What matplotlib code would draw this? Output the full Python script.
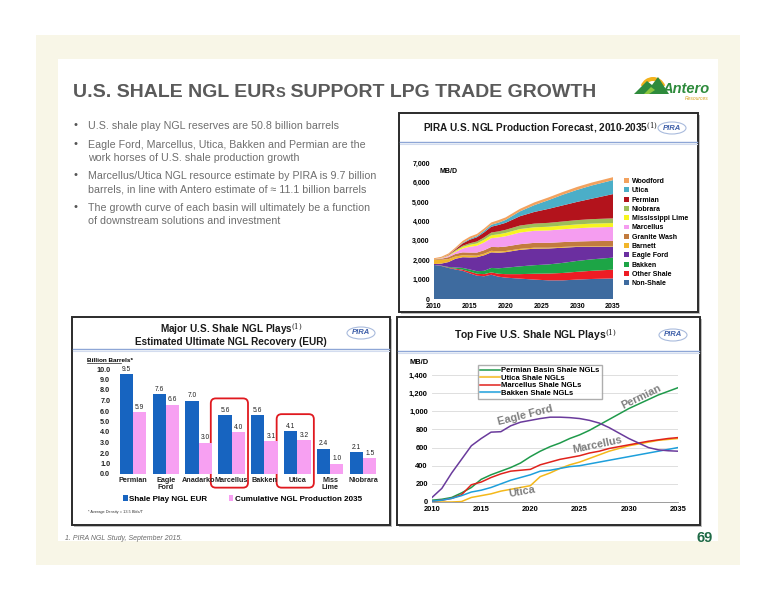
import matplotlib
matplotlib.use("Agg")
import matplotlib.pyplot as plt
from matplotlib.patches import Rectangle, FancyBboxPatch, Ellipse, Polygon, Wedge

plt.rcParams["font.family"] = ["Liberation Sans", "DejaVu Sans"]
plt.rcParams["mathtext.fontset"] = "dejavuserif"

W, H = 776, 600

# ---- data: PIRA U.S. NGL production forecast (MB/D), stacked layers ----
fc_years = [2010, 2011, 2012, 2013, 2014, 2015, 2016, 2017, 2018, 2019, 2020,
            2022, 2024, 2026, 2028, 2030, 2032, 2035]
non_shale = [1750, 1700, 1600, 1520, 1450, 1320, 1200, 1170, 1250, 1150, 1100,
             1050, 1000, 960, 960, 1000, 1030, 1060]
other_shale = [0, 10, 20, 40, 60, 90, 100, 110, 120, 150, 180, 230, 300, 350, 380, 400, 420, 450]
bakken_area = [0, 10, 30, 60, 90, 110, 130, 170, 230, 280, 330, 400, 440, 470, 520, 560, 590, 620]
eagle_area = [50, 100, 250, 450, 550, 620, 720, 800, 800, 800, 800, 850, 850, 820, 780, 720, 650, 570]
barnett = [230, 200, 150, 120, 100, 100, 80, 80, 80, 70, 60, 50, 50, 40, 40, 30, 30, 30]
granite_wash = [20, 50, 100, 130, 150, 150, 160, 180, 200, 220, 230, 240, 250, 250, 250, 250, 260, 260]
marcellus_area = [0, 20, 60, 100, 200, 300, 350, 400, 450, 500, 530, 600, 620, 640, 660, 680, 700, 720]
miss_lime = [0, 10, 20, 50, 80, 100, 120, 140, 150, 160, 170, 180, 180, 190, 190, 200, 200, 200]
niobrara_area = [0, 10, 20, 40, 60, 80, 100, 120, 140, 150, 160, 180, 190, 200, 210, 220, 230, 240]
permian_area = [0, 0, 20, 50, 120, 180, 220, 260, 300, 330, 360, 480, 600, 720, 830, 940, 1050, 1250]
utica_area = [0, 0, 0, 10, 30, 50, 60, 80, 100, 120, 150, 250, 350, 450, 550, 620, 680, 720]
woodford = [50, 60, 70, 80, 100, 110, 110, 120, 120, 130, 130, 130, 140, 140, 140, 150, 150, 150]
layer_names = ["Non-Shale", "Other Shale", "Bakken", "Eagle Ford", "Barnett", "Granite Wash",
               "Marcellus", "Mississippi Lime", "Niobrara", "Permian", "Utica", "Woodford"]
layer_colors = ["#3e6b9f", "#ee1c24", "#1da546", "#6b2fa0", "#f2b62a", "#c27b3e",
                "#f59df0", "#f7f51f", "#9dbd5a", "#b3131c", "#4baec8", "#f3a25e"]

# ---- data: EUR by shale play (billion barrels) ----
plays = ["Permian", "Eagle\nFord", "Anadarko", "Marcellus", "Bakken", "Utica", "Miss\nLime", "Niobrara"]
eur = [9.5, 7.6, 7.0, 5.6, 5.6, 4.1, 2.4, 2.1]
cum_2035 = [5.9, 6.6, 3.0, 4.0, 3.1, 3.2, 1.0, 1.5]
highlight = ["Marcellus", "Utica"]

# ---- data: top five shale NGL plays (MB/D) ----
line_years = list(range(2010, 2036))
eagle_ford = [50, 150, 320, 470, 620, 700, 770, 775, 840, 880, 900, 920, 935,
              935, 930, 920, 900, 870, 820, 760, 700, 650, 600, 575, 565, 560]
permian = [20, 30, 50, 100, 160, 250, 300, 340, 380, 430, 500, 560, 610,
           650, 700, 740, 790, 850, 910, 970, 1030, 1080, 1130, 1180, 1220, 1260]
utica = [0, 0, 0, 5, 50, 70, 90, 120, 140, 160, 180, 280, 320,
         370, 410, 440, 480, 520, 560, 590, 620, 640, 660, 680, 690, 700]
marcellus = [10, 20, 40, 80, 190, 220, 270, 310, 340, 350, 360, 410, 440,
             470, 490, 510, 540, 560, 590, 610, 630, 650, 670, 685, 700, 710]
bakken = [10, 20, 40, 70, 110, 130, 160, 200, 240, 270, 300, 340, 350,
          370, 390, 400, 420, 440, 460, 480, 500, 520, 540, 560, 580, 600]

bullets = [
    ["U.S. shale play NGL reserves are 50.8 billion barrels"],
    ["Eagle Ford, Marcellus, Utica, Bakken and Permian are the",
     "work horses of U.S. shale production growth"],
    ["Marcellus/Utica NGL resource estimate by PIRA is 9.7 billion",
     "barrels, in line with Antero estimate of \u2248 11.1 billion barrels"],
    ["The growth curve of each basin will ultimately be a function",
     "of downstream solutions and investment"],
]


def box(x0, y0, x1, y1):
    return [x0 / W, 1 - y1 / H, (x1 - x0) / W, (y1 - y0) / H]


def panel(bg, x0, y0, x1, y1, sep_y):
    bg.add_patch(Rectangle((x0 + 2, y0 + 2), x1 - x0, y1 - y0, fc="#bdbdbd", ec="none", zorder=1))
    bg.add_patch(Rectangle((x0, y0), x1 - x0, y1 - y0, fc="white", ec="#2b2b2b", lw=1.4, zorder=2))
    bg.plot([x0 + 1, x1 - 1], [sep_y, sep_y], color="#8ea6d6", lw=1.0, zorder=3)
    bg.plot([x0 + 1, x1 - 1], [sep_y + 2, sep_y + 2], color="#d3dcef", lw=0.8, zorder=3)


def pira(bg, cx, cy):
    bg.add_patch(Ellipse((cx, cy), 28, 12, fc="white", ec="#a9bbdd", lw=0.8, zorder=4))
    bg.text(cx, cy, "PIRA", fontsize=5.5, fontweight="bold", style="italic",
            color="#3d5ea8", ha="center", va="center", zorder=5)


fig = plt.figure(figsize=(7.76, 6), dpi=100)
bg = fig.add_axes([0, 0, 1, 1])
bg.set_xlim(0, W)
bg.set_ylim(H, 0)
bg.axis("off")

# slide background
bg.add_patch(Rectangle((36, 35), 704, 530, fc="#f8f6e7", ec="none", zorder=0))
bg.add_patch(Rectangle((58, 59), 660, 482, fc="white", ec="none", zorder=0))

# title with small-caps "S"
renderer = fig.canvas.get_renderer()
x = 73
for part, size in [("U.S. SHALE NGL EUR", 14), ("S", 10.5), (" SUPPORT LPG TRADE GROWTH", 14)]:
    t = bg.text(x, 97, part, fontsize=size, fontweight="bold", color="#5a5a5a",
                ha="left", va="baseline", zorder=5)
    x += t.get_window_extent(renderer).width

# Antero logo
bg.add_patch(Wedge((653, 90), 13, 200, 340, width=4, fc="#f2b21c", ec="none", zorder=4))
bg.add_patch(Polygon([(634, 94), (647, 81), (652, 85), (658, 77), (669, 94)],
                     closed=True, fc="#2e8b3c", ec="none", zorder=5))
bg.add_patch(Polygon([(644, 94), (651, 87), (655, 90), (649, 94)],
                     closed=True, fc="#8cc63f", ec="none", zorder=6))
bg.text(662, 93, "Antero", fontsize=10.5, fontweight="bold", style="italic",
        color="#2e8b3c", ha="left", va="baseline", zorder=5)
bg.text(709, 100, "Resources", fontsize=3.6, style="italic", color="#d6a11e",
        ha="right", va="baseline", zorder=5)

# bullets
line_y = [[126], [145, 158], [176, 189], [208, 221]]
for lines, ys in zip(bullets, line_y):
    bg.text(76, ys[0] - 1, "\u2022", fontsize=8, color="#555555", ha="center", va="center", zorder=5)
    for txt, yy in zip(lines, ys):
        bg.text(88, yy, txt, fontsize=7.7, color="#6e6e6e", ha="left", va="center", zorder=5)

# panels
panel(bg, 399, 113, 698, 312, 142)
panel(bg, 72, 317, 390, 525, 349)
panel(bg, 397, 317, 700, 525, 351)

# ---- top right: stacked area ----
bg.text(540, 128, "PIRA U.S. NGL Production Forecast, 2010-2035$^{(1)}$", fontsize=7.2,
        fontweight="bold", color="#1a1a1a", ha="center", va="center", zorder=5)
pira(bg, 672, 128)

ax1 = fig.add_axes(box(434, 163, 613, 299))
layers = [non_shale, other_shale, bakken_area, eagle_area, barnett, granite_wash,
          marcellus_area, miss_lime, niobrara_area, permian_area, utica_area, woodford]
polys = ax1.stackplot(fc_years, layers, colors=layer_colors, labels=layer_names, linewidth=0)
ax1.set_xlim(2010, 2035)
ax1.set_ylim(0, 7000)
ax1.set_xticks(range(2010, 2036, 5))
ax1.set_yticks(range(0, 7001, 1000))
ax1.set_yticklabels([f"{v:,}" for v in range(0, 7001, 1000)])
ax1.tick_params(length=0, labelsize=5, pad=3)
for lab in ax1.get_xticklabels() + ax1.get_yticklabels():
    lab.set_fontweight("bold")
for s in ax1.spines.values():
    s.set_visible(False)
ax1.patch.set_alpha(0)
ax1.text(2010.8, 6750, "MB/D", fontsize=5, fontweight="bold", va="top")
ax1.legend(polys[::-1], layer_names[::-1], loc="upper left",
           bbox_to_anchor=(624 / W, 1 - 178 / H), bbox_transform=fig.transFigure,
           frameon=False, prop={"size": 5, "weight": "bold"},
           handlelength=0.7, handleheight=0.7, handletextpad=0.4, labelspacing=0.33,
           borderpad=0, borderaxespad=0)

# ---- bottom left: EUR bars ----
bg.text(231, 333, "Major U.S. Shale NGL Plays$^{(1)}$", fontsize=7.2, fontweight="bold",
        color="#1a1a1a", ha="center", va="baseline", zorder=5)
bg.text(231, 345, "Estimated Ultimate NGL Recovery (EUR)", fontsize=7.2, fontweight="bold",
        color="#1a1a1a", ha="center", va="baseline", zorder=5)
pira(bg, 361, 333)

ax2 = fig.add_axes(box(113, 369, 383, 474))
xs = list(range(len(plays)))
b1 = ax2.bar([i - 0.2 for i in xs], eur, width=0.4, color="#1764c0", label="Shale Play NGL EUR")
b2 = ax2.bar([i + 0.2 for i in xs], cum_2035, width=0.4, color="#f7a0f2",
             label="Cumulative NGL Production 2035")
ax2.bar_label(b1, fmt="%.1f", padding=1, fontsize=4.8, color="#222222")
ax2.bar_label(b2, fmt="%.1f", padding=1, fontsize=4.8, color="#222222")
ax2.set_xlim(-0.6, len(plays) - 0.4)
ax2.set_ylim(0, 10)
ax2.set_yticks([i * 1.0 for i in range(11)])
ax2.set_yticklabels([f"{i:.1f}" for i in range(11)])
ax2.set_xticks(xs)
ax2.set_xticklabels(plays, linespacing=1.0)
ax2.tick_params(length=0, labelsize=5.2, pad=2)
for lab in ax2.get_xticklabels() + ax2.get_yticklabels():
    lab.set_fontweight("bold")
    lab.set_color("#222222")
for s in ax2.spines.values():
    s.set_visible(False)
ax2.patch.set_alpha(0)
bg.text(87, 360, "Billion Barrels*", fontsize=4.6, fontweight="bold", ha="left", va="center", zorder=5)
bg.plot([87, 121], [363, 363], color="#222222", lw=0.5, zorder=5)

to_bg = bg.transData.inverted()
for name in highlight:
    i = plays.index(name)
    (hx0, hy0) = to_bg.transform(ax2.transData.transform((i - 0.63, eur[i] + 1.6)))
    (hx1, hy1) = to_bg.transform(ax2.transData.transform((i + 0.5, -1.3)))
    bg.add_patch(FancyBboxPatch((hx0, hy0), hx1 - hx0, hy1 - hy0,
                                boxstyle="round,pad=0,rounding_size=5",
                                fc="none", ec="#e0191f", lw=1.3, zorder=6))

ax2.legend(loc="upper left", bbox_to_anchor=(123 / W, 1 - 495 / H), bbox_transform=fig.transFigure,
           ncol=2, frameon=False, prop={"size": 5.8, "weight": "bold"},
           handlelength=0.6, handleheight=0.7, handletextpad=0.2, columnspacing=2.6,
           borderpad=0, borderaxespad=0)
bg.text(88, 512, "* Average Density = 13.5 Bbls/T", fontsize=2.8, color="#333333",
        ha="left", va="center", zorder=5)

# ---- bottom right: lines ----
bg.text(535, 335, "Top Five U.S. Shale NGL Plays$^{(1)}$", fontsize=7.5, fontweight="bold",
        color="#1a1a1a", ha="center", va="center", zorder=5)
pira(bg, 673, 335)

ax3 = fig.add_axes(box(432, 375, 678, 502))
ax3.plot(line_years, permian, color="#1f9a4b", lw=1.1, label="Permian Basin Shale NGLs")
ax3.plot(line_years, utica, color="#f4b81a", lw=1.1, label="Utica Shale NGLs")
ax3.plot(line_years, marcellus, color="#e0221c", lw=1.1, label="Marcellus Shale NGLs")
ax3.plot(line_years, bakken, color="#1d9fdb", lw=1.1, label="Bakken Shale NGLs")
ax3.plot(line_years, eagle_ford, color="#6a3b9c", lw=1.1)
ax3.set_xlim(2010, 2035)
ax3.set_ylim(0, 1400)
ax3.set_xticks(range(2010, 2036, 5))
ax3.set_yticks(range(0, 1401, 200))
ax3.set_yticklabels([f"{v:,}" for v in range(0, 1401, 200)])
ax3.grid(axis="y", color="#d9d9d9", lw=0.6)
ax3.set_axisbelow(True)
ax3.tick_params(length=0, labelsize=5.4, pad=3)
for lab in ax3.get_xticklabels() + ax3.get_yticklabels():
    lab.set_fontweight("bold")
for s in ["top", "right", "left"]:
    ax3.spines[s].set_visible(False)
ax3.spines["bottom"].set_color("#8c8c8c")
ax3.spines["bottom"].set_linewidth(0.6)
ax3.patch.set_alpha(0)
bg.text(410, 363, "MB/D", fontsize=5.4, fontweight="bold", ha="left", va="center", zorder=5)
ax3.legend(loc="upper left", bbox_to_anchor=(478 / W, 1 - 365 / H), bbox_transform=fig.transFigure,
           frameon=True, fancybox=False, edgecolor="#9a9a9a", prop={"size": 5.5, "weight": "bold"},
           handlelength=2.6, handletextpad=0.2, labelspacing=0.02, borderpad=0.25, borderaxespad=0)
lab_style = dict(fontsize=7.8, color="#7f7f7f", fontweight="bold", ha="center", va="center")
ax3.text(2019.5, 960, "Eagle Ford", rotation=14, **lab_style)
ax3.text(2031.3, 1160, "Permian", rotation=26, **lab_style)
ax3.text(2026.8, 630, "Marcellus", rotation=12, **lab_style)
ax3.text(2019.1, 110, "Utica", rotation=10, **lab_style)

# footer
bg.text(65, 538, "1. PIRA NGL Study, September 2015.", fontsize=5, style="italic",
        color="#6a6a6a", ha="left", va="center", zorder=5)
bg.text(705, 538, "69", fontsize=10.5, fontweight="bold", color="#1f6a46",
        ha="center", va="center", zorder=5)

fig.savefig("out.png", dpi=100)
